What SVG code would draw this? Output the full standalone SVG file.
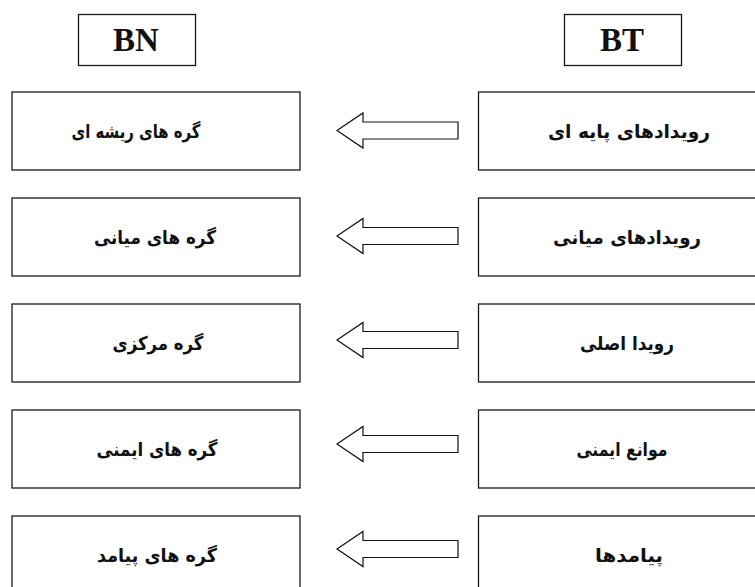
<svg xmlns="http://www.w3.org/2000/svg" width="755" height="587" viewBox="0 0 755 587">
<style>
.box{fill:#fff;stroke:#1a1a1a;stroke-width:1.3}
.hdr{font-family:"Liberation Serif",serif;font-weight:bold;font-size:33px;fill:#111;text-anchor:middle}
.lbl{font-family:"DejaVu Sans",sans-serif;font-weight:bold;font-size:19px;fill:#111;text-anchor:middle;direction:rtl}
.arr{fill:#fff;stroke:#111;stroke-width:1.2;stroke-linejoin:miter}
</style>
<defs>
<path id="arrow" d="M337,0 L363,-17.5 L363,-8.5 L458,-8.5 L458,8.5 L363,8.5 L363,17.5 Z"/>
</defs>
<g id="hdr-BN"><rect class="box" x="78.5" y="14.5" width="117" height="51"/><text class="hdr" x="136" y="51">BN</text></g>
<g id="hdr-BT"><rect class="box" x="564.5" y="14.5" width="117" height="51"/><text class="hdr" x="622" y="51">BT</text></g>

<g id="bn1"><rect class="box" x="12" y="92" width="288" height="78"/><text class="lbl" x="136" y="138" textLength="129" lengthAdjust="spacingAndGlyphs">گره های ریشه ای</text></g>
<g id="bn2"><rect class="box" x="12" y="198" width="288" height="78"/><text class="lbl" x="155" y="244" textLength="122" lengthAdjust="spacingAndGlyphs">گره های میانی</text></g>
<g id="bn3"><rect class="box" x="12" y="304" width="288" height="78"/><text class="lbl" x="158" y="350" textLength="91" lengthAdjust="spacingAndGlyphs">گره مرکزی</text></g>
<g id="bn4"><rect class="box" x="12" y="410" width="288" height="78"/><text class="lbl" x="157" y="456" textLength="121" lengthAdjust="spacingAndGlyphs">گره های ایمنی</text></g>
<g id="bn5"><rect class="box" x="12" y="516" width="288" height="78"/><text class="lbl" x="157" y="562" textLength="120" lengthAdjust="spacingAndGlyphs">گره های پیامد</text></g>

<g id="bt1"><rect class="box" x="478.5" y="92" width="300" height="78"/><text class="lbl" x="629" y="138" textLength="162" lengthAdjust="spacingAndGlyphs">رویدادهای پایه ای</text></g>
<g id="bt2"><rect class="box" x="478.5" y="198" width="300" height="78"/><text class="lbl" x="627" y="244" textLength="148" lengthAdjust="spacingAndGlyphs">رویدادهای میانی</text></g>
<g id="bt3"><rect class="box" x="478.5" y="304" width="300" height="78"/><text class="lbl" x="627" y="350" textLength="94" lengthAdjust="spacingAndGlyphs">رویدا اصلی</text></g>
<g id="bt4"><rect class="box" x="478.5" y="410" width="300" height="78"/><text class="lbl" x="622" y="456" textLength="91" lengthAdjust="spacingAndGlyphs">موانع ایمنی</text></g>
<g id="bt5"><rect class="box" x="478.5" y="516" width="300" height="78"/><text class="lbl" x="629" y="562" textLength="68" lengthAdjust="spacingAndGlyphs">پیامدها</text></g>

<g id="connectors">
<use href="#arrow" class="arr" transform="translate(0,130.5)"/>
<use href="#arrow" class="arr" transform="translate(0,236)"/>
<use href="#arrow" class="arr" transform="translate(0,340)"/>
<use href="#arrow" class="arr" transform="translate(0,444)"/>
<use href="#arrow" class="arr" transform="translate(0,549)"/>
</g>
</svg>
